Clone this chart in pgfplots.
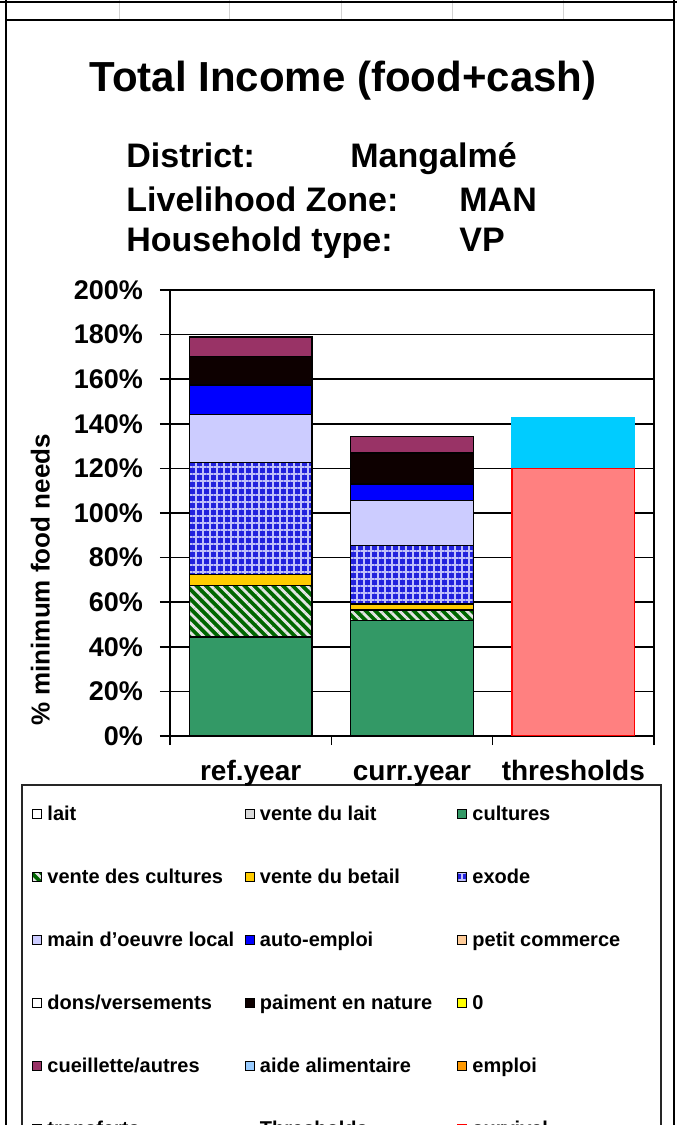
\documentclass[border=0pt]{standalone}
\usepackage{fontspec}
\setmainfont{Liberation Sans}
\usepackage{pgfplots}
\pgfplotsset{compat=1.18}
\usetikzlibrary{patterns.meta}

\definecolor{cCult}{HTML}{339966}
\definecolor{cVdc}{HTML}{006600}
\definecolor{cVdcLine}{HTML}{E4E4E4}
\definecolor{cBetail}{HTML}{FFCC00}
\definecolor{cExode}{HTML}{2222DD}
\definecolor{cExodeLine}{HTML}{C0C0FA}
\definecolor{cMain}{HTML}{CCCCFF}
\definecolor{cAuto}{HTML}{0000FF}
\definecolor{cPaie}{HTML}{0D0000}
\definecolor{cCueil}{HTML}{993366}
\definecolor{cLivprot}{HTML}{00CCFF}
\definecolor{cSurv}{HTML}{FF8080}
\definecolor{cPetit}{HTML}{FFCC99}
\definecolor{cAide}{HTML}{99CCFF}
\definecolor{cEmploi}{HTML}{FF9900}
\definecolor{cZero}{HTML}{FFFF00}

% fixed-width legend cells
\newcommand{\leg}[1]{\makebox[101.25pt][l]{\hspace{2.5pt}\rule[-2.5pt]{0pt}{10pt}#1}}

\begin{document}
\begin{tikzpicture}
\begin{scope}[x=0.5pt,y=0.5pt]
\useasboundingbox (0,0) rectangle (677,1125);
\clip (0,0) rectangle (677,1125);

% spreadsheet cells above the chart
\draw[gray!35, line width=0.5pt] foreach \x in {119,229,341,452,563} {(\x,1125)--(\x,1105)};
\draw[black, line width=1pt] (0,1123)--(677,1123);
% chart frame
\draw[black, line width=1.4pt] (6,1125)--(6,-5) (674,1125)--(674,-5) (6,1105)--(674,1105);

\node[anchor=base, font=\fontsize{21}{21}\selectfont\bfseries] at (343,1033) {Total Income (food+cash)};
\begin{scope}
  \clip (0,867) rectangle (677,1000);
  \begin{scope}[every node/.style={anchor=base west, inner sep=0pt, font=\fontsize{17}{17}\selectfont\bfseries}]
    \node at (126,957) {District:};
    \node at (350,957) {Mangalmé};
    \node at (126,913) {Livelihood Zone:};
    \node at (459,913) {MAN};
    \node at (126,873) {Household type:};
    \node at (459,873) {VP};
  \end{scope}
\end{scope}

% legend frame
\draw[black!85, line width=1pt] (22,340) rectangle (661,-20);

\begin{axis}[
    at={(85pt,194.5pt)}, anchor=south west,
    scale only axis, width=242pt, height=223pt,
    ybar stacked, stacked ignores zero,
    bar width=0.76,
    xmin=-0.5, xmax=2.5, ymin=0, ymax=200,
    xtick={0,1,2}, xticklabels={ref.year,curr.year,thresholds},
    xtick style={draw=none},
    extra x ticks={-0.5,0.5,1.5,2.5}, extra x tick labels={},
    extra x tick style={tick align=outside, major tick length=4.5pt, xtick style={draw=black}},
    ytick={0,20,...,200},
    yticklabels={0\%,20\%,40\%,60\%,80\%,100\%,120\%,140\%,160\%,180\%,200\%},
    xtick pos=bottom, ytick pos=left,
    tick align=center, major tick length=10pt,
    ymajorgrids, grid style={black, line width=0.75pt},
    axis line style={line width=0.75pt},
    every tick/.style={black, line width=0.75pt},
    yticklabel style={font=\fontsize{13.5}{13.5}\selectfont\bfseries, xshift=-5pt},
    xticklabel style={font=\fontsize{14}{14}\selectfont\bfseries, text height=10.5pt, text depth=3pt, yshift=-3pt},
    ylabel={\% minimum food needs},
    ylabel style={font=\fontsize{13}{13}\selectfont\bfseries, at={(axis description cs:-0.268,0.35)}, anchor=center},
    every axis plot/.append style={draw=black, line width=0.75pt},
    legend columns=3,
    legend cell align=left,
    legend style={at={(-0.285,-0.154)}, anchor=north west, draw=none, fill=none,
        inner sep=0pt, row sep=22.5pt, column sep=0pt,
        font=\fontsize{10}{12}\selectfont\bfseries, nodes={inner sep=0pt}},
    legend image code/.code={\draw[#1, line width=0.5pt] (0pt,-2.25pt) rectangle (4.5pt,2.25pt);},
]
\addlegendimage{fill=white, draw=black}
\addlegendentry{\leg{lait}}
\addlegendimage{fill=gray!30, draw=black}
\addlegendentry{\leg{vente du lait}}

\addplot[fill=cCult] coordinates {(0,44.5) (1,51.9) (2,0)};
\addlegendentry{\leg{cultures}}
\addplot[fill=cVdc, postaction={pattern={Lines[angle=-45,distance=3.4pt,line width=1.4pt]}, pattern color=cVdcLine}]
    coordinates {(0,23.0) (1,4.5) (2,0)};
\addlegendentry{\leg{vente des cultures}}
\addplot[fill=cBetail] coordinates {(0,4.9) (1,2.9) (2,0)};
\addlegendentry{\leg{vente du betail}}
\addplot[fill=cExode, postaction={pattern={Hatch[angle=0,distance=3.5pt,line width=0.6pt]}, pattern color=cExodeLine}]
    coordinates {(0,50.2) (1,26.2) (2,0)};
\addlegendentry{\leg{exode}}
\addplot[fill=cMain] coordinates {(0,21.5) (1,20.0) (2,0)};
\addlegendentry{\leg{main d'oeuvre local}}
\addplot[fill=cAuto] coordinates {(0,13.2) (1,7.4) (2,0)};
\addlegendentry{\leg{auto-emploi}}

\addlegendimage{fill=cPetit, draw=black}
\addlegendentry{\leg{petit commerce}}
\addlegendimage{fill=white, draw=black}
\addlegendentry{\leg{dons/versements}}

\addplot[fill=cPaie] coordinates {(0,12.9) (1,14.1) (2,0)};
\addlegendentry{\leg{paiment en nature}}

\addlegendimage{fill=cZero, draw=black}
\addlegendentry{\leg{0}}

\addplot[fill=cCueil] coordinates {(0,8.8) (1,7.4) (2,0)};
\addlegendentry{\leg{cueillette/autres}}

\addlegendimage{fill=cAide, draw=black}
\addlegendentry{\leg{aide alimentaire}}
\addlegendimage{fill=cEmploi, draw=black}
\addlegendentry{\leg{emploi}}
\addlegendimage{fill=gray!50, draw=black}
\addlegendentry{\leg{transferts}}
\addlegendimage{draw=white, fill=white}
\addlegendentry{\leg{Thresholds}}

\addplot[fill=cSurv, draw=red] coordinates {(0,0) (1,0) (2,120.0)};
\addlegendentry{\leg{survival}}
\addplot[fill=cLivprot, draw=cLivprot] coordinates {(0,0) (1,0) (2,22.5)};
\addlegendentry{\leg{livelihood protection}}
\end{axis}
\end{scope}
\end{tikzpicture}
\end{document}
